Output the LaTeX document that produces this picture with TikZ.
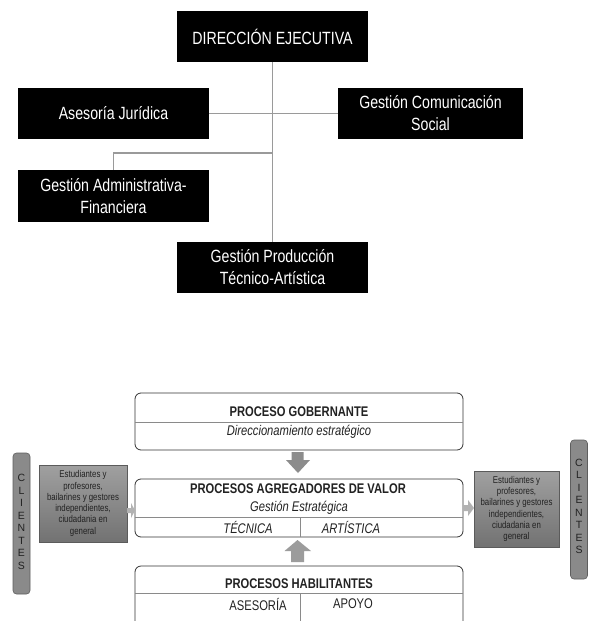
\documentclass[tikz,border=0pt]{standalone}
\usepackage{fontspec}
\setmainfont[FakeStretch=0.80]{Liberation Sans}
\newfontfamily\plainf{Liberation Sans}
\definecolor{linegray}{HTML}{9A9A9A}
\definecolor{arrowdark}{HTML}{8C8C8C}
\definecolor{arrowmid}{HTML}{9C9C9C}
\definecolor{arrowlight}{HTML}{B2B2B2}
\definecolor{boxborder}{HTML}{333333}
\definecolor{divgray}{HTML}{8A8A8A}
\definecolor{pillfill}{HTML}{8A8A8A}
\definecolor{pillborder}{HTML}{5E5E5E}
\definecolor{gtop}{HTML}{A0A0A0}
\definecolor{gbot}{HTML}{727272}
\definecolor{txtdark}{HTML}{222222}
\begin{document}
\begin{tikzpicture}[x=1pt,y=-1pt,
  orgbox/.style={fill=black,text=white,minimum width=191pt,minimum height=51pt,inner sep=0pt,outer sep=0pt,align=center,font=\fontsize{17.7}{22}\selectfont},
  orglink/.style={draw=linegray,line width=1.2pt},
  procbox/.style={draw=boxborder,line width=0.8pt,rounded corners=6pt,minimum width=328pt,inner sep=0pt,outer sep=0pt,fill=white},
  divline/.style={draw=divgray,line width=0.7pt},
  ptitle/.style={inner sep=0pt,text=txtdark,font=\bfseries\fontsize{14}{15}\selectfont},
  pital/.style={inner sep=0pt,text=txtdark,font=\itshape\fontsize{14}{15}\selectfont},
  pplain/.style={inner sep=0pt,text=txtdark,font=\fontsize{14}{15}\selectfont},
  graybox/.style={draw=gbot!80!black,line width=0.5pt,top color=gtop,bottom color=gbot,inner sep=0pt,outer sep=0pt,align=center,text=txtdark,font=\fontsize{9.8}{11.3}\selectfont},
  pill/.style={draw=pillborder,fill=pillfill,line width=0.6pt,rounded corners=3.5pt,minimum width=17pt,inner sep=0pt,outer sep=0pt},
  pilltext/.style={inner sep=0pt,align=center,text=txtdark,font=\plainf\fontsize{10.5}{12.5}\selectfont}
]
\clip (0,0) rectangle (595,621);
\fill[white] (0,0) rectangle (595,621);

% ---------- org chart ----------
\node[orgbox] (dir) at (272.5,36.5) {DIRECCIÓN EJECUTIVA};
\node[orgbox] (aj)  at (113.5,113.5) {Asesoría Jurídica};
\node[orgbox,minimum width=185pt] (gcs) at (430.5,113.5) {Gestión Comunicación\\Social};
\node[orgbox,minimum height=52pt] (gaf) at (113.5,196) {Gestión Administrativa-\\Financiera};
\node[orgbox] (gpt) at (272.5,267.5) {Gestión Producción\\Técnico-Artística};

\coordinate (jn) at (272.5,153);
\draw[orglink] (dir.south) -- (gpt.north);
\draw[orglink] (aj.east) -- (gcs.west);
\draw[orglink] (jn) -| (gaf.north);

% ---------- process map ----------
\node[procbox,minimum height=57pt] (gob) at (299,421.5) {};
\node[procbox,minimum height=58pt] (agr) at (299,508) {};
\node[procbox,minimum height=74pt] (hab) at (299,603) {};

\draw[divline] (gob.west |- 0,422) -- (gob.east |- 0,422);
\draw[divline] (agr.west |- 0,517) -- (agr.east |- 0,517);
\draw[divline] (300,517) -- (300,537);
\draw[divline] (hab.west |- 0,593) -- (hab.east |- 0,593);
\draw[divline] (300,593) -- (300,640);

\node[ptitle] (gobt) at (299,412) {PROCESO GOBERNANTE};
\node[pital]  (gobs) at (299,432) {Direccionamiento estratégico};
\node[ptitle] (agrt) at (298,489) {PROCESOS AGREGADORES DE VALOR};
\node[pital]  (agrs) at (299,508) {Gestión Estratégica};
\node[pital]  (tec)  at (248,527.5) {TÉCNICA};
\node[pital]  (art)  at (351,527.5) {ARTÍSTICA};
\node[ptitle] (habt) at (299,584) {PROCESOS HABILITANTES};
\node[pplain] (ase)  at (258,604) {ASESORÍA};
\node[pplain] (apo)  at (353,604) {APOYO};

% block arrows
\fill[arrowdark] (291.5,452) -- (303.5,452) -- (303.5,460) -- (310,460) -- (298,473) -- (286,460) -- (291.5,460) -- cycle;
\fill[arrowmid] (291,562) -- (304,562) -- (304,551) -- (311,551) -- (297.5,540) -- (284.5,551) -- (291,551) -- cycle;

% client boxes
\node[graybox,minimum width=88pt,minimum height=77pt] (cl) at (83,503.5) {Estudiantes y\\profesores,\\bailarines y gestores\\independientes,\\ciudadania en\\general};
\node[graybox,minimum width=85pt,minimum height=76pt] (cr) at (516.5,509) {Estudiantes y\\profesores,\\bailarines y gestores\\independientes,\\ciudadania en\\general};

\fill[arrowlight] (cl.east |- 0,508) -- (131,508) -- (131,503) -- (agr.west |- 0,510.5) -- (131,518) -- (131,513) -- (cl.east |- 0,513) -- cycle;
\fill[arrowlight] (agr.east |- 0,505) -- (468,505) -- (468,500) -- (cr.west |- 0,508) -- (468,516) -- (468,511) -- (agr.east |- 0,511) -- cycle;

\node[pill,minimum height=141pt] (pl) at (21.5,523.5) {};
\node[pill,minimum height=139pt] (pr) at (579,509.5) {};
\node[pilltext] (plt) at (21.5,522) {C\\L\\I\\E\\N\\T\\E\\S};
\node[pilltext] (prt) at (579,506.5) {C\\L\\I\\E\\N\\T\\E\\S};
\end{tikzpicture}
\end{document}
